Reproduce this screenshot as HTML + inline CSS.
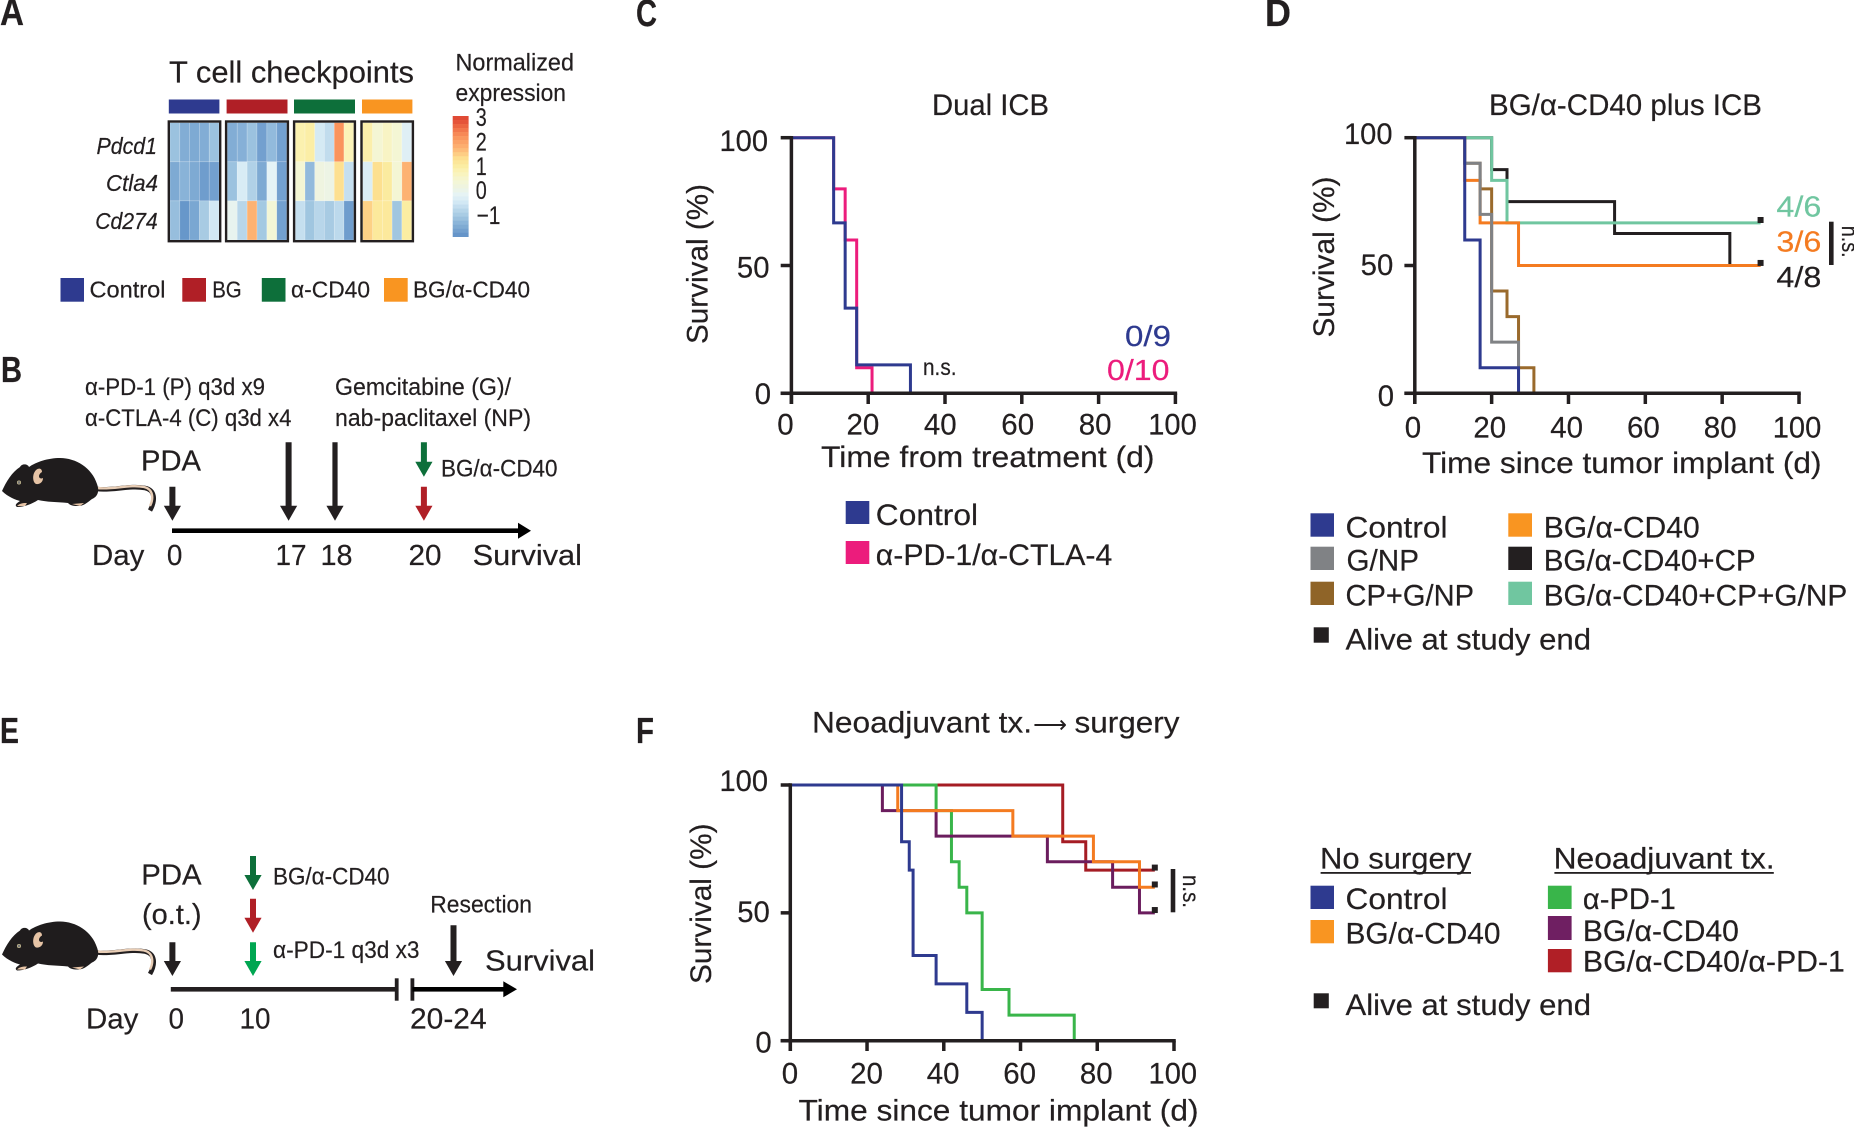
<!DOCTYPE html>
<html lang="en">
<head>
<meta charset="utf-8">
<title>Survival figure panels A-F</title>
<style>
html,body{margin:0;padding:0;background:#fff;}
svg{display:block;}
text{font-family:"Liberation Sans","DejaVu Sans",sans-serif;fill:#231f20;stroke:#231f20;stroke-width:.2px;}
.b{font-weight:bold;}
.i{font-style:italic;}
</style>
</head>
<body>
<svg id="figure" xmlns="http://www.w3.org/2000/svg" width="1854" height="1128" viewBox="0 0 1854 1128">
<rect x="0" y="0" width="1854" height="1128" fill="#fff"/>

<!-- Panel letters -->
<text class="b" x="0" y="25" font-size="38" textLength="24" lengthAdjust="spacingAndGlyphs">A</text>
<text class="b" x="1" y="382" font-size="36" textLength="21" lengthAdjust="spacingAndGlyphs">B</text>
<text class="b" x="636" y="26" font-size="38" textLength="21" lengthAdjust="spacingAndGlyphs">C</text>
<text class="b" x="1265" y="26" font-size="38" textLength="26" lengthAdjust="spacingAndGlyphs">D</text>
<text class="b" x="0" y="743" font-size="36" textLength="19" lengthAdjust="spacingAndGlyphs">E</text>
<text class="b" x="636" y="743" font-size="36" textLength="18" lengthAdjust="spacingAndGlyphs">F</text>

<!-- Panel A -->
<text x="169" y="82.7" font-size="31" textLength="245" lengthAdjust="spacingAndGlyphs">T cell checkpoints</text>
<text x="455.5" y="70.7" font-size="24" textLength="118.5" lengthAdjust="spacingAndGlyphs">Normalized</text>
<text x="455.5" y="101" font-size="24" textLength="110.5" lengthAdjust="spacingAndGlyphs">expression</text>
<rect x="168.8" y="99.5" width="50.6" height="14" fill="#2e3a8f"/>
<rect x="226.6" y="99.5" width="60.9" height="14" fill="#b01f26"/>
<rect x="294" y="99.5" width="61" height="14" fill="#0d6f3a"/>
<rect x="362" y="99.5" width="50.4" height="14" fill="#f99521"/>
<text class="i" x="96.5" y="154" font-size="23" textLength="60.5" lengthAdjust="spacingAndGlyphs">Pdcd1</text>
<text class="i" x="106" y="191" font-size="23" textLength="52" lengthAdjust="spacingAndGlyphs">Ctla4</text>
<text class="i" x="95.2" y="229" font-size="23" textLength="62.5" lengthAdjust="spacingAndGlyphs">Cd274</text>
<g id="heatmap"></g>
<g id="colorbar"></g>
<text x="475.7" y="126" font-size="25" textLength="11" lengthAdjust="spacingAndGlyphs">3</text>
<text x="475.7" y="150.7" font-size="25" textLength="11" lengthAdjust="spacingAndGlyphs">2</text>
<text x="475.7" y="175" font-size="25" textLength="11" lengthAdjust="spacingAndGlyphs">1</text>
<text x="475.7" y="199" font-size="25" textLength="11" lengthAdjust="spacingAndGlyphs">0</text>
<text x="476.5" y="224" font-size="25" textLength="24" lengthAdjust="spacingAndGlyphs">−1</text>

<g>
<rect x="60.5" y="278" width="23.5" height="23.7" fill="#2e3a8f"/>
<text x="89.5" y="297.3" font-size="23" textLength="76" lengthAdjust="spacingAndGlyphs">Control</text>
<rect x="182.3" y="278" width="23.7" height="23.7" fill="#b01f26"/>
<text x="212.2" y="297.3" font-size="23" textLength="29.5" lengthAdjust="spacingAndGlyphs">BG</text>
<rect x="261.8" y="278" width="23.7" height="23.7" fill="#0d6f3a"/>
<text x="291" y="297.3" font-size="23" textLength="79" lengthAdjust="spacingAndGlyphs">α-CD40</text>
<rect x="384" y="278" width="23.7" height="23.7" fill="#f99521"/>
<text x="413" y="297.3" font-size="23" textLength="117" lengthAdjust="spacingAndGlyphs">BG/α-CD40</text>
</g>

<!-- Panel B -->
<g id="mouse-b">
<path d="M97,489 C112,491 130,485 145,488 C155,490 156,500 150,510.5" fill="none" stroke="#231f20" stroke-width="4.6"/>
<path d="M97,488 C112,490 130,484 144,487 C153,489 154,498 150,506" fill="none" stroke="#e8cdb5" stroke-width="2.4"/>
<path d="M2,491 C6,482 12,472 20,467 C22,463 28,464 29,467 C36,462 48,458 60,458 C76,458 92,468 97,484 C100,492 97,497 92,499 C88,502 84,506 78,506 C72,506 70,505 68,503 C58,502 46,502 38,500 C32,504 24,507 17,507 C14,505 17,503 20,501 C16,500 8,497 2,491 Z" fill="#1f1c1d"/>
<path d="M37.5,469 C32,472 32,482 36,484 C40,484.5 43,482 43,478 C39,480 37,475 42,472 C42,469 40,468 37.5,469 Z" fill="#e6c3a5"/>
<circle cx="19" cy="482.5" r="1.7" fill="#777" stroke="#c9bd8f" stroke-width=".7"/>
<path d="M17,506 C20,503 24,503 27,503 L25,506 Z M72,504 L84,503 L80,506 Z" fill="#e6c3a5"/>
</g>
<text x="85" y="395" font-size="24" textLength="180" lengthAdjust="spacingAndGlyphs">α-PD-1 (P) q3d x9</text>
<text x="85" y="426" font-size="24" textLength="206.5" lengthAdjust="spacingAndGlyphs">α-CTLA-4 (C) q3d x4</text>
<text x="335" y="395" font-size="24" textLength="176" lengthAdjust="spacingAndGlyphs">Gemcitabine (G)/</text>
<text x="335" y="426" font-size="24" textLength="196" lengthAdjust="spacingAndGlyphs">nab-paclitaxel (NP)</text>
<text x="141" y="470.7" font-size="29" textLength="60" lengthAdjust="spacingAndGlyphs">PDA</text>
<text x="441" y="476.7" font-size="24" textLength="116.5" lengthAdjust="spacingAndGlyphs">BG/α-CD40</text>
<text x="92" y="565" font-size="29" textLength="52.3" lengthAdjust="spacingAndGlyphs">Day</text>
<text x="166.9" y="565" font-size="29" textLength="15.5" lengthAdjust="spacingAndGlyphs">0</text>
<text x="275.5" y="565" font-size="29" textLength="31" lengthAdjust="spacingAndGlyphs">17</text>
<text x="320.5" y="565" font-size="29" textLength="32" lengthAdjust="spacingAndGlyphs">18</text>
<text x="408.5" y="565" font-size="29" textLength="33" lengthAdjust="spacingAndGlyphs">20</text>
<text x="472.7" y="565" font-size="29" textLength="109.3" lengthAdjust="spacingAndGlyphs">Survival</text>
<rect x="172" y="528.4" width="348" height="4.6" fill="#000"/>
<polygon points="518,522.7 531,530.7 518,538.7" fill="#000"/>

<!-- Panel E -->
<use id="mouse-e" href="#mouse-b" transform="translate(0,463.5)"/>
<text x="141.3" y="884.3" font-size="29" textLength="60.3" lengthAdjust="spacingAndGlyphs">PDA</text>
<text x="142" y="924" font-size="29" textLength="59.6" lengthAdjust="spacingAndGlyphs">(o.t.)</text>
<text x="273" y="884.3" font-size="24" textLength="116.5" lengthAdjust="spacingAndGlyphs">BG/α-CD40</text>
<text x="273" y="958" font-size="24" textLength="146.5" lengthAdjust="spacingAndGlyphs">α-PD-1 q3d x3</text>
<text x="430.3" y="912.7" font-size="24" textLength="101.7" lengthAdjust="spacingAndGlyphs">Resection</text>
<text x="485" y="970.7" font-size="29" textLength="110" lengthAdjust="spacingAndGlyphs">Survival</text>
<rect x="170.8" y="987" width="225.8" height="4.6" fill="#231f20"/>
<rect x="394.8" y="978.3" width="3.8" height="22.4" fill="#231f20"/>
<rect x="410.5" y="978.3" width="3.8" height="22.4" fill="#231f20"/>
<rect x="412.4" y="987" width="92" height="4.6" fill="#000"/>
<polygon points="503.3,981.3 517,989.3 503.3,997.3" fill="#000"/>
<text x="86" y="1028.3" font-size="29" textLength="52.4" lengthAdjust="spacingAndGlyphs">Day</text>
<text x="168.5" y="1028.3" font-size="29" textLength="15.5" lengthAdjust="spacingAndGlyphs">0</text>
<text x="239.5" y="1028.3" font-size="29" textLength="31" lengthAdjust="spacingAndGlyphs">10</text>
<text x="410" y="1028.3" font-size="29" textLength="76.6" lengthAdjust="spacingAndGlyphs">20-24</text>
<g id="schedule-arrows"></g>

<!-- Panel C -->
<text x="932" y="115" font-size="30" textLength="117" lengthAdjust="spacingAndGlyphs">Dual ICB</text>
<text x="821" y="467" font-size="30" textLength="333.5" lengthAdjust="spacingAndGlyphs">Time from treatment (d)</text>
<text transform="translate(707.5,344) rotate(-90)" font-size="30" textLength="160" lengthAdjust="spacingAndGlyphs">Survival (%)</text>
<text x="1125" y="346" font-size="29" textLength="46" lengthAdjust="spacingAndGlyphs" style="fill:#2e3a8f;stroke:#2e3a8f">0/9</text>
<text x="1107" y="380" font-size="29" textLength="62.5" lengthAdjust="spacingAndGlyphs" style="fill:#ec1c7c;stroke:#ec1c7c">0/10</text>
<text x="923" y="375" font-size="23" textLength="33.5" lengthAdjust="spacingAndGlyphs">n.s.</text>
<rect x="845.7" y="501" width="23.6" height="23" fill="#2e3a8f"/>
<text x="875.8" y="525" font-size="30" textLength="102.2" lengthAdjust="spacingAndGlyphs">Control</text>
<rect x="845.7" y="541" width="23.6" height="23" fill="#ec1c7c"/>
<text x="875.8" y="565" font-size="30" textLength="236.5" lengthAdjust="spacingAndGlyphs">α-PD-1/α-CTLA-4</text>

<!-- Panel D -->
<text x="1489" y="115" font-size="30" textLength="273" lengthAdjust="spacingAndGlyphs">BG/α-CD40 plus ICB</text>
<text x="1422" y="473" font-size="30" textLength="399.5" lengthAdjust="spacingAndGlyphs">Time since tumor implant (d)</text>
<text transform="translate(1333.9,337.5) rotate(-90)" font-size="30" textLength="161" lengthAdjust="spacingAndGlyphs">Survival (%)</text>
<text x="1776.4" y="216.7" font-size="29" textLength="45" lengthAdjust="spacingAndGlyphs" style="fill:#70c6a0;stroke:#70c6a0">4/6</text>
<text x="1776.4" y="251.7" font-size="29" textLength="45" lengthAdjust="spacingAndGlyphs" style="fill:#f47b20;stroke:#f47b20">3/6</text>
<text x="1776.4" y="287" font-size="29" textLength="45" lengthAdjust="spacingAndGlyphs">4/8</text>
<rect x="1829" y="221.7" width="4.6" height="43.3" fill="#231f20"/>
<text transform="translate(1842,225.7) rotate(90)" font-size="23" textLength="32" lengthAdjust="spacingAndGlyphs">n.s.</text>
<g>
<rect x="1310.5" y="513.3" width="23.5" height="23.4" fill="#2e3a8f"/>
<text x="1345.5" y="537.7" font-size="30" textLength="102" lengthAdjust="spacingAndGlyphs">Control</text>
<rect x="1310.5" y="546.7" width="23.5" height="23.3" fill="#808285"/>
<text x="1346.5" y="570.7" font-size="30" textLength="72.5" lengthAdjust="spacingAndGlyphs">G/NP</text>
<rect x="1310.5" y="581.7" width="23.5" height="23.3" fill="#8f6428"/>
<text x="1345.5" y="605.7" font-size="30" textLength="128.5" lengthAdjust="spacingAndGlyphs">CP+G/NP</text>
<rect x="1508.3" y="513.3" width="23.7" height="23.4" fill="#f99521"/>
<text x="1543.7" y="537.7" font-size="30" textLength="156" lengthAdjust="spacingAndGlyphs">BG/α-CD40</text>
<rect x="1508.3" y="546.7" width="23.7" height="23.3" fill="#231f20"/>
<text x="1543.7" y="570.7" font-size="30" textLength="212" lengthAdjust="spacingAndGlyphs">BG/α-CD40+CP</text>
<rect x="1508.3" y="581.7" width="23.7" height="23.3" fill="#70c6a0"/>
<text x="1543.7" y="605.7" font-size="30" textLength="303.5" lengthAdjust="spacingAndGlyphs">BG/α-CD40+CP+G/NP</text>
<rect x="1313.7" y="627.3" width="15.1" height="15.4" fill="#231f20"/>
<text x="1345.5" y="649.3" font-size="30" textLength="245.5" lengthAdjust="spacingAndGlyphs">Alive at study end</text>
</g>

<!-- Panel F -->
<text x="812" y="732.3" font-size="30" textLength="220" lengthAdjust="spacingAndGlyphs">Neoadjuvant tx.</text>
<text x="1033" y="732.3" font-size="24" textLength="34" lengthAdjust="spacingAndGlyphs" style="stroke-width:0">⟶</text>
<text x="1074.5" y="732.3" font-size="30" textLength="105" lengthAdjust="spacingAndGlyphs">surgery</text>
<text x="798.5" y="1120.7" font-size="30" textLength="400" lengthAdjust="spacingAndGlyphs">Time since tumor implant (d)</text>
<text transform="translate(711,984) rotate(-90)" font-size="30" textLength="160.5" lengthAdjust="spacingAndGlyphs">Survival (%)</text>
<rect x="1170.7" y="869" width="4.6" height="43.3" fill="#231f20"/>
<text transform="translate(1183,875) rotate(90)" font-size="23" textLength="33" lengthAdjust="spacingAndGlyphs">n.s.</text>
<g>
<text x="1320" y="868.3" font-size="30" textLength="151.5" lengthAdjust="spacingAndGlyphs">No surgery</text>
<rect x="1320.6" y="872" width="150.4" height="1.8" fill="#231f20"/>
<text x="1553.6" y="868.3" font-size="30" textLength="221" lengthAdjust="spacingAndGlyphs">Neoadjuvant tx.</text>
<rect x="1554.4" y="872" width="219.4" height="1.8" fill="#231f20"/>
<rect x="1310.5" y="885.7" width="23.5" height="23.3" fill="#2e3a8f"/>
<text x="1345.5" y="909" font-size="30" textLength="102" lengthAdjust="spacingAndGlyphs">Control</text>
<rect x="1310.5" y="920" width="23.5" height="23.3" fill="#f99521"/>
<text x="1345.5" y="943.3" font-size="30" textLength="155" lengthAdjust="spacingAndGlyphs">BG/α-CD40</text>
<rect x="1547.9" y="885.7" width="23.7" height="23.3" fill="#39b54a"/>
<text x="1582.9" y="909" font-size="30" textLength="93" lengthAdjust="spacingAndGlyphs">α-PD-1</text>
<rect x="1547.9" y="916" width="23.7" height="24" fill="#6f1f62"/>
<text x="1582.9" y="941" font-size="30" textLength="156" lengthAdjust="spacingAndGlyphs">BG/α-CD40</text>
<rect x="1547.9" y="949" width="23.7" height="23.3" fill="#b01f26"/>
<text x="1582.9" y="971.7" font-size="30" textLength="262" lengthAdjust="spacingAndGlyphs">BG/α-CD40/α-PD-1</text>
<rect x="1313.7" y="993.3" width="15.1" height="15" fill="#231f20"/>
<text x="1345.5" y="1015" font-size="30" textLength="245.5" lengthAdjust="spacingAndGlyphs">Alive at study end</text>
</g>

<g id="charts"></g>
</svg>

<script>
// ---------- Shared tick labels ----------
const xTickValues = [0, 20, 40, 60, 80, 100];
const yTickValues = [0, 50, 100];

// ---------- Panel C data (time, survival %) ----------
const cControlTimes = [11, 14, 17, 31];
const cControlSurvival = [66.7, 33.3, 11.1, 0];
const cTreatedTimes = [11, 14, 17, 21];
const cTreatedSurvival = [80, 60, 10, 0];

// ---------- Panel D data ----------
const dControlTimes = [13, 17, 27];
const dControlSurvival = [60, 10, 0];
const dGnpTimes = [13, 17, 20, 27];
const dGnpSurvival = [90, 70, 20, 0];
const dCpGnpTimes = [13, 17, 20, 24, 27, 31];
const dCpGnpSurvival = [90, 80, 40, 30, 10, 0];
const dBgCd40Times = [13, 17, 27, 90];
const dBgCd40Survival = [83.3, 66.7, 50, 50];
const dBgCd40CpTimes = [20, 24, 52, 82, 90];
const dBgCd40CpSurvival = [87.5, 75, 62.5, 50, 50];
const dTripleTimes = [20, 24, 90];
const dTripleSurvival = [83.3, 66.7, 66.7];
const dCensorTimes = [90, 90];
const dCensorSurvival = [67.8, 51];

// ---------- Panel F data ----------
const fControlTimes = [29, 31, 32, 38, 46, 50];
const fControlSurvival = [77.8, 66.7, 33.3, 22.2, 11.1, 0];
const fPd1Times = [38, 42, 44, 46, 50, 57, 74];
const fPd1Survival = [90, 70, 60, 50, 20, 10, 0];
const fBgCd40Times = [28, 58, 79, 91, 95];
const fBgCd40Survival = [90, 80, 70, 60, 60];
const fNeoBgCd40Times = [24, 38, 67, 84, 91, 95];
const fNeoBgCd40Survival = [90, 80, 70, 60, 50, 50];
const fNeoTripleTimes = [71, 77, 95];
const fNeoTripleSurvival = [77.8, 66.7, 66.7];
const fCensorTimes = [95, 95, 95];
const fCensorSurvival = [67.7, 61.1, 51.1];

// ---------- Heatmap data (z-scores, one array per row per group) ----------
const geneRows = ['Pdcd1', 'Ctla4', 'Cd274'];
const controlPdcd1 = [-1.05, -1.35, -1.4, -1.35, -1.05];
const controlCtla4 = [-1.4, -1.25, -1.4, -1.6, -1.55];
const controlCd274 = [-1.1, -1.7, -1.45, -0.9, -0.4];
const bgPdcd1 = [-1.35, -1.3, -1.05, -1.55, -1.15, -1.55];
const bgCtla4 = [-1.05, -0.3, -0.8, -1.4, -0.1, -1.55];
const bgCd274 = [0, -0.7, 1.85, -0.95, 0.45, -1.55];
const cd40Pdcd1 = [0.95, 1.05, -0.35, -0.6, 2.3, 0.85];
const cd40Ctla4 = [0.5, -1.15, 0.25, 0.15, 1.4, -0.55];
const cd40Cd274 = [-0.55, -1.0, -0.7, -0.9, -0.65, -1.6];
const bgCd40Pdcd1 = [1.0, 0.5, 0.7, 0.5, -0.2];
const bgCd40Ctla4 = [-0.25, 1.4, 1.15, 0.5, 1.85];
const bgCd40Cd274 = [1.55, 1.2, 1.2, -1.0, 1.1];

// ---------- Colour scale ----------
const colorDomain = [-1.8, -1.6, -1.4, -1.2, -1.0, -0.7, -0.4, -0.1, 0.2, 0.5, 0.85, 1.1, 1.4, 1.85, 2.3, 2.7, 3.0];
const colorRange = ['#5f90c6', '#6f9dcd', '#7eaad3', '#8db6da', '#a0c6e0', '#b8d6ea', '#d2e8f4', '#e5f3f6', '#eef4e2', '#f4f6d4', '#fbf3b8', '#fbeda2', '#fde090', '#fdb272', '#fa935c', '#ee6a44', '#e04a35'];

const SVGNS = 'http://www.w3.org/2000/svg';

function make(parent, tag, name, attrs) {
  const el = document.createElementNS(SVGNS, tag);
  
  
  for (const k in attrs) { el.setAttribute(k, attrs[k]); }
  parent.appendChild(el);
  return el;
}

function hexToRgb(h) {
  return [parseInt(h.slice(1, 3), 16), parseInt(h.slice(3, 5), 16), parseInt(h.slice(5, 7), 16)];
}

function colorFor(v) {
  if (v <= colorDomain[0]) return colorRange[0];
  for (let i = 1; i < colorDomain.length; i++) {
    if (v <= colorDomain[i]) {
      const f = (v - colorDomain[i - 1]) / (colorDomain[i] - colorDomain[i - 1]);
      const a = hexToRgb(colorRange[i - 1]);
      const b = hexToRgb(colorRange[i]);
      return 'rgb(' + a.map((c, j) => Math.round(c + (b[j] - c) * f)).join(',') + ')';
    }
  }
  return colorRange[colorRange.length - 1];
}

// ---------- Heatmap ----------
const heatTop = 122.7;
const heatBottom = 240;

function drawHeatGroup(name, left, right, rows) {
  const host = document.getElementById('heatmap');
  const g = make(host, 'g', 'heatmap-group-' + name, {});
  const rowH = (heatBottom - heatTop) / rows.length;
  rows.forEach((row, r) => {
    const cellW = (right - left) / row.length;
    row.forEach((v, c) => {
      make(g, 'rect', 'heatmap-cell-' + name + '-' + geneRows[r] + '-' + c, {
        x: left + c * cellW,
        y: heatTop + r * rowH,
        width: cellW,
        height: rowH,
        fill: colorFor(v),
        stroke: 'rgba(255,255,255,.28)',
        'stroke-width': 0.6
      });
    });
  });
  make(g, 'rect', 'heatmap-group-border-' + name, {
    x: left - 1.2,
    y: heatTop - 1.2,
    width: right - left + 2.4,
    height: heatBottom - heatTop + 2.4,
    fill: 'none',
    stroke: '#231f20',
    'stroke-width': 2.4
  });
}

drawHeatGroup('control', 170, 219, [controlPdcd1, controlCtla4, controlCd274]);
drawHeatGroup('bg', 227.3, 286.7, [bgPdcd1, bgCtla4, bgCd274]);
drawHeatGroup('cd40', 295.3, 353.7, [cd40Pdcd1, cd40Ctla4, cd40Cd274]);
drawHeatGroup('bg-cd40', 362.7, 411.7, [bgCd40Pdcd1, bgCd40Ctla4, bgCd40Cd274]);

// ---------- Colour bar ----------
(function () {
  const host = document.getElementById('colorbar');
  const top = 116, bottom = 236.7, steps = 30;
  const vTop = 3.15, vBottom = -1.8;
  for (let i = 0; i < steps; i++) {
    const h = (bottom - top) / steps;
    make(host, 'rect', 'colorbar-step', {
      x: 452.7,
      y: top + i * h,
      width: 15.9,
      height: h + 0.3,
      fill: colorFor(vTop + (vBottom - vTop) * (i + 0.5) / steps)
    });
  }
})();

// ---------- Schematic arrows ----------
function arrow(name, cx, top, tip, color, half) {
  const host = document.getElementById('schedule-arrows');
  const hs = tip - 15;
  const s = half || 3;
  const pts = [
    [cx - s, top], [cx + s, top], [cx + s, hs], [cx + 8.6, hs], [cx, tip], [cx - 8.6, hs], [cx - s, hs]
  ].map(p => p.join(',')).join(' ');
  make(host, 'polygon', name, { points: pts, fill: color });
}
arrow('arrow-b-pda', 172.4, 486.7, 520.7, '#231f20', 3);
arrow('arrow-b-day-17', 288.6, 442.3, 520.7, '#231f20', 3);
arrow('arrow-b-day-18', 335, 442.3, 520.7, '#231f20', 2.6);
arrow('arrow-b-cd40', 423.9, 442.3, 476.7, '#0d6f3a', 3);
arrow('arrow-b-bg', 423.9, 486.7, 520.7, '#b01f26', 3);
arrow('arrow-e-pda', 172.4, 942.3, 976, '#231f20', 3);
arrow('arrow-e-cd40', 253, 856, 890, '#0d6f3a', 3);
arrow('arrow-e-bg', 253, 898.7, 932.7, '#b01f26', 3);
arrow('arrow-e-pd1', 253, 942.3, 976, '#00a651', 3);
arrow('arrow-e-resection', 453.5, 925.3, 976, '#231f20', 3);

// ---------- Kaplan-Meier charts ----------
const chartC = {
  id: 'chart-c', x0: 791.4, x100: 1175.4, y0: 393.3, y100: 137.7, tickLeft: 780.7, tickBottom: 404,
  xLabel0: 785.5, xLabel100: 1172.5, xLabelBase: 434.3,
  yLabelBase0: 404, yLabelBase100: 151, yLabelRight0: 771, yLabelRight100: 768
};
const chartD = {
  id: 'chart-d', x0: 1414.8, x100: 1799, y0: 393.3, y100: 137.7, tickLeft: 1404.4, tickBottom: 404,
  xLabel0: 1413, xLabel100: 1797, xLabelBase: 437.3,
  yLabelBase0: 406, yLabelBase100: 144, yLabelRight0: 1394, yLabelRight100: 1392.5
};
const chartF = {
  id: 'chart-f', x0: 790.3, x100: 1174, y0: 1040.7, y100: 785, tickLeft: 780.7, tickBottom: 1051,
  xLabel0: 790, xLabel100: 1172.8, xLabelBase: 1083.3,
  yLabelBase0: 1052.7, yLabelBase100: 791, yLabelRight0: 771.7, yLabelRight100: 768
};

function sx(c, t) { return c.x0 + (c.x100 - c.x0) * t / 100; }
function sy(c, v) { return c.y0 + (c.y100 - c.y0) * v / 100; }

function drawAxes(c) {
  const host = document.getElementById('charts');
  const g = make(host, 'g', c.id + '-axes', {});
  const axisStyle = { stroke: '#231f20', 'stroke-width': 3.5, fill: 'none' };
  make(g, 'line', c.id + '-y-axis', Object.assign({ x1: c.x0, x2: c.x0, y1: c.y100 - 1.75, y2: c.tickBottom }, axisStyle));
  make(g, 'line', c.id + '-x-axis', Object.assign({ x1: c.tickLeft, x2: c.x100 + 1.75, y1: c.y0, y2: c.y0 }, axisStyle));
  xTickValues.forEach(v => {
    const x = sx(c, v);
    make(g, 'line', c.id + '-x-tick-' + v, Object.assign({ x1: x, x2: x, y1: c.y0, y2: c.tickBottom }, axisStyle));
    const lx = c.xLabel0 + (c.xLabel100 - c.xLabel0) * v / 100;
    const s = String(v);
    const w = s.length === 3 ? 48.5 : s.length * 16.4;
    const t = make(g, 'text', c.id + '-x-tick-label-' + v, {
      x: lx, y: c.xLabelBase, 'font-size': 30, 'text-anchor': 'middle',
      textLength: w, lengthAdjust: 'spacingAndGlyphs'
    });
    t.textContent = s;
  });
  yTickValues.forEach(v => {
    const y = sy(c, v);
    make(g, 'line', c.id + '-y-tick-' + v, Object.assign({ x1: c.tickLeft, x2: c.x0, y1: y, y2: y }, axisStyle));
    const s = String(v);
    const w = s.length === 3 ? 48.5 : s.length * 16.3;
    const t = make(g, 'text', c.id + '-y-tick-label-' + v, {
      x: c.yLabelRight0 + (c.yLabelRight100 - c.yLabelRight0) * v / 100,
      y: c.yLabelBase0 + (c.yLabelBase100 - c.yLabelBase0) * v / 100,
      'font-size': 30, 'text-anchor': 'end',
      textLength: w, lengthAdjust: 'spacingAndGlyphs'
    });
    t.textContent = s;
  });
}

function drawSeries(c, name, times, survival, color) {
  const host = document.getElementById('charts');
  let d = 'M' + sx(c, 0) + ' ' + sy(c, 100);
  times.forEach((t, i) => {
    d += ' H' + sx(c, t) + ' V' + sy(c, survival[i]);
  });
  make(host, 'path', c.id + '-series-' + name, {
    d: d, fill: 'none', stroke: color, 'stroke-width': 3, 'stroke-linejoin': 'miter'
  });
}

function drawCensors(c, times, survival) {
  const host = document.getElementById('charts');
  times.forEach((t, i) => {
    make(host, 'rect', c.id + '-censor-mark-' + i, {
      x: sx(c, t) - 3, y: sy(c, survival[i]) - 3, width: 6, height: 6, fill: '#231f20'
    });
  });
}

drawSeries(chartC, 'treated', cTreatedTimes, cTreatedSurvival, '#ec1c7c');
drawSeries(chartC, 'control', cControlTimes, cControlSurvival, '#2e3a8f');
drawAxes(chartC);

drawSeries(chartD, 'bg-cd40-cp', dBgCd40CpTimes, dBgCd40CpSurvival, '#231f20');
drawSeries(chartD, 'triple', dTripleTimes, dTripleSurvival, '#70c6a0');
drawSeries(chartD, 'cp-g-np', dCpGnpTimes, dCpGnpSurvival, '#9a6a2c');
drawSeries(chartD, 'bg-cd40', dBgCd40Times, dBgCd40Survival, '#f47b20');
drawSeries(chartD, 'g-np', dGnpTimes, dGnpSurvival, '#808285');
drawSeries(chartD, 'control', dControlTimes, dControlSurvival, '#2e3a8f');
drawCensors(chartD, dCensorTimes, dCensorSurvival);
drawAxes(chartD);

drawSeries(chartF, 'neo-triple', fNeoTripleTimes, fNeoTripleSurvival, '#a51c24');
drawSeries(chartF, 'pd1', fPd1Times, fPd1Survival, '#39b54a');
drawSeries(chartF, 'neo-bg-cd40', fNeoBgCd40Times, fNeoBgCd40Survival, '#6b1d5e');
drawSeries(chartF, 'bg-cd40', fBgCd40Times, fBgCd40Survival, '#f47b20');
drawSeries(chartF, 'control', fControlTimes, fControlSurvival, '#2e3a8f');
drawCensors(chartF, fCensorTimes, fCensorSurvival);
drawAxes(chartF);
</script>
</body>
</html>
